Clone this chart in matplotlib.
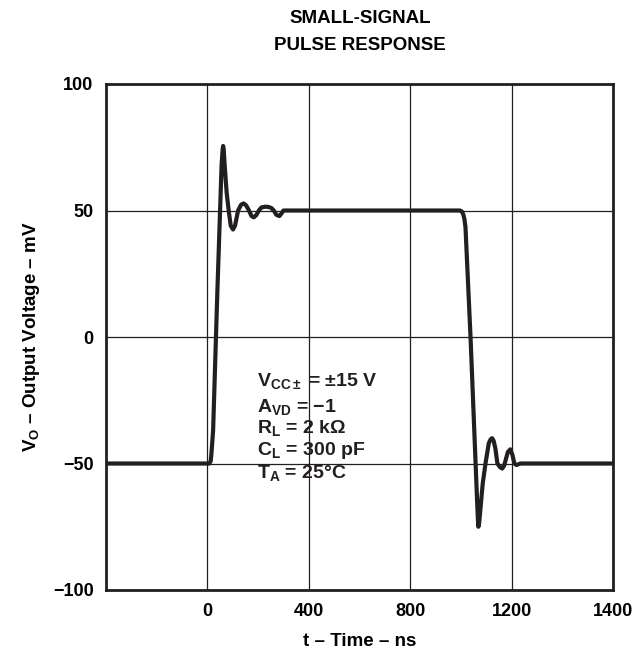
import matplotlib
matplotlib.use("Agg")
import matplotlib.pyplot as plt

plt.rcParams['font.family'] = ['Liberation Sans', 'DejaVu Sans']
plt.rcParams['font.weight'] = 'bold'
plt.rcParams['axes.labelweight'] = 'bold'
plt.rcParams['mathtext.fontset'] = 'custom'
plt.rcParams['mathtext.rm'] = 'Liberation Sans:bold'
plt.rcParams['mathtext.it'] = 'Liberation Sans:bold'
plt.rcParams['mathtext.bf'] = 'Liberation Sans:bold'

# waveform (time in ns, output in mV)
t_ns = [-400, 8, 13, 16, 22.5, 39.5, 56, 60, 62, 64, 68, 76, 84, 92, 101, 109,
        121, 133, 143, 153, 164, 174, 183, 193, 203, 213, 228, 241, 252, 262,
        272, 284, 292, 300,
        996, 1004, 1010, 1014, 1018, 1038, 1058, 1064, 1067, 1069, 1072, 1077,
        1086, 1097, 1110, 1117, 1123, 1129, 1136, 1144, 1155, 1163, 1170, 1177,
        1185, 1195, 1203, 1211, 1219, 1235, 1600]
v_mv = [-50, -50, -49, -46, -37, 18.6, 68, 74, 75.5, 74.5, 68, 57, 50, 44, 42.5, 44,
        50, 52.3, 52.8, 52, 50, 47.8, 47.3, 48.2, 50, 51.2, 51.5, 51.4, 51, 50,
        48.3, 47.8, 48.8, 50,
        50, 49.6, 48.3, 46.5, 43.5, 0, -50, -65, -72, -75, -73.5, -68,
        -58, -50, -42, -40.5, -40, -41, -44, -50, -51.5, -52, -51, -48.5,
        -45.5, -44.4, -46.5, -50, -50.6, -50, -50]

x_ticks = [0, 400, 800, 1200, 1600]
x_labels = ['0', '400', '800', '1200', '1400']  # as printed on the datasheet
y_ticks = [-100, -50, 0, 50, 100]
y_labels = ['\u2212100', '\u221250', '0', '50', '100']

notes = [r'V$_{CC\pm}$ = $\pm$15 V',
         'A$_{VD}$ = \u22121',
         r'R$_L$ = 2 k$\Omega$',
         'C$_L$ = 300 pF',
         'T$_A$ = 25\u00b0C']

fig = plt.figure(figsize=(6.4, 6.57), dpi=100)
ax = fig.add_axes([106 / 640, 67 / 657, 507 / 640, 506 / 657])

ax.plot(t_ns, v_mv, color='#231f20', linewidth=3.0,
        solid_joinstyle='round', solid_capstyle='round')

ax.set_xlim(-400, 1600)
ax.set_ylim(-100, 100)
ax.set_xticks(x_ticks)
ax.set_xticklabels(x_labels)
ax.set_yticks(y_ticks)
ax.set_yticklabels(y_labels)
ax.tick_params(length=0, labelsize=13, pad=9)
ax.grid(True, color='#231f20', linewidth=0.9)
for sp in ax.spines.values():
    sp.set_linewidth(2.0)
    sp.set_color('#231f20')

ax.set_xlabel('t \u2013 Time \u2013 ns', fontsize=13.5, fontweight='bold', labelpad=10)
ax.set_ylabel('V$_O$ \u2013 Output Voltage \u2013 mV', fontsize=13.5,
              fontweight='bold', labelpad=8)

# test conditions
base_y = [-19.4, -29.6, -37.9, -46.6, -55.7]
for txt, yb in zip(notes, base_y):
    ax.text(195, yb, txt, fontsize=14, va='baseline', ha='left', color='#231f20')

fig.text(0.5625, 0.972, 'SMALL-SIGNAL', ha='center', va='center', fontsize=13.5)
fig.text(0.5625, 0.931, 'PULSE RESPONSE', ha='center', va='center', fontsize=13.5)

fig.savefig('out.png', dpi=100)
